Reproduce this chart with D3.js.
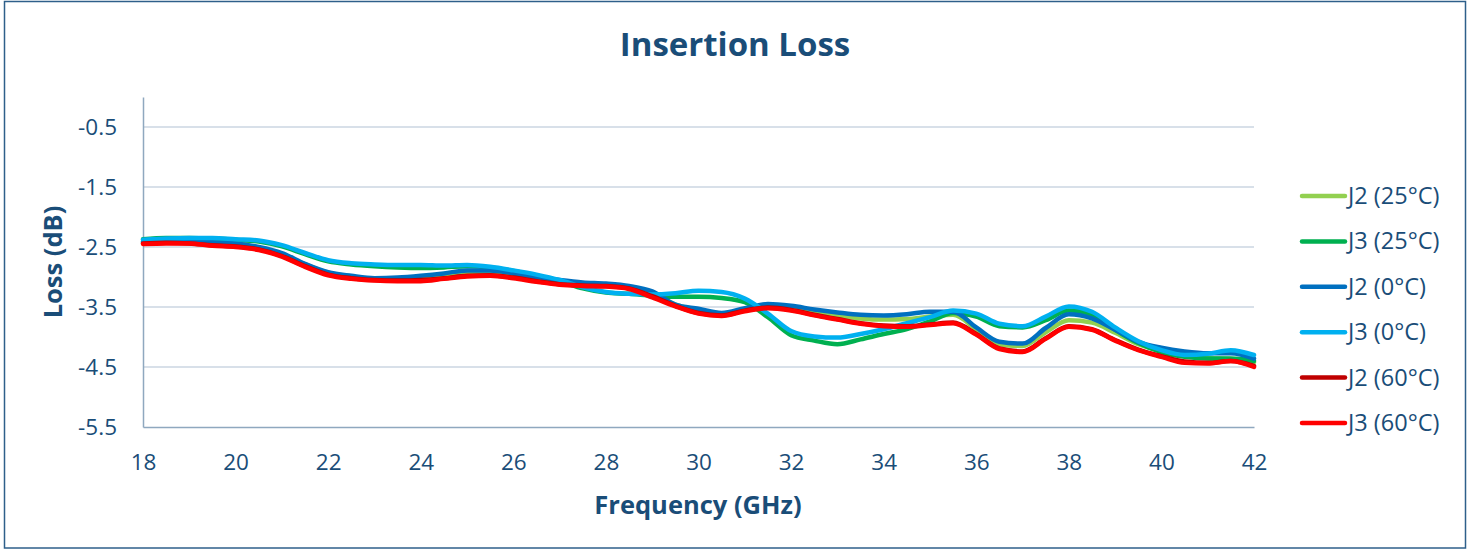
<!DOCTYPE html>
<html>
<head>
<meta charset="utf-8">
<script src="https://cdn.jsdelivr.net/npm/d3@7"></script>
<style>
  body { margin: 0; background: #fff; }
  text { font-family: "Open Sans", "Noto Sans", sans-serif; fill: #1A4D78; }
</style>
</head>
<body>
<svg id="chart" width="1473" height="550"></svg>
<script>
// frequency points (GHz)
var freq = [18, 18.5, 19, 19.5, 20, 20.5, 21, 21.5, 22, 22.5, 23, 23.5, 24, 24.5, 25, 25.5,
  26, 26.5, 27, 27.5, 28, 28.5, 29, 29.5, 30, 30.5, 31, 31.5, 32, 32.5, 33, 33.5,
  34, 34.5, 35, 35.5, 36, 36.5, 37, 37.5, 38, 38.5, 39, 39.5, 40, 40.5, 41, 41.5, 42];

var j2_25 = [-2.41, -2.40, -2.41, -2.43, -2.45, -2.51, -2.62, -2.79, -2.93, -2.99, -3.03, -3.03, -3.01, -2.97, -2.93, -2.92,
  -2.96, -3.02, -3.07, -3.11, -3.13, -3.17, -3.27, -3.46, -3.55, -3.61, -3.55, -3.49, -3.52, -3.58, -3.64, -3.69,
  -3.71, -3.70, -3.66, -3.63, -3.87, -4.12, -4.15, -3.92, -3.72, -3.76, -3.93, -4.12, -4.23, -4.30, -4.35, -4.37, -4.42];
var j3_25 = [-2.37, -2.35, -2.35, -2.36, -2.38, -2.41, -2.49, -2.62, -2.74, -2.79, -2.82, -2.84, -2.85, -2.84, -2.82, -2.84,
  -2.90, -2.98, -3.07, -3.19, -3.26, -3.28, -3.31, -3.33, -3.33, -3.35, -3.42, -3.67, -3.97, -4.06, -4.12, -4.04,
  -3.95, -3.87, -3.74, -3.60, -3.66, -3.82, -3.84, -3.72, -3.56, -3.63, -3.88, -4.10, -4.25, -4.33, -4.36, -4.36, -4.40];
var j2_0 = [-2.42, -2.41, -2.41, -2.42, -2.44, -2.50, -2.60, -2.78, -2.92, -2.98, -3.02, -3.01, -2.98, -2.94, -2.89, -2.89,
  -2.94, -3.00, -3.05, -3.09, -3.11, -3.15, -3.24, -3.46, -3.53, -3.60, -3.52, -3.45, -3.48, -3.54, -3.59, -3.63,
  -3.64, -3.62, -3.58, -3.58, -3.84, -4.08, -4.11, -3.85, -3.62, -3.69, -3.88, -4.08, -4.18, -4.24, -4.27, -4.27, -4.36];
var j3_0 = [-2.38, -2.36, -2.35, -2.35, -2.37, -2.39, -2.47, -2.60, -2.72, -2.77, -2.79, -2.80, -2.80, -2.81, -2.80, -2.83,
  -2.89, -2.96, -3.05, -3.17, -3.25, -3.28, -3.29, -3.27, -3.23, -3.25, -3.36, -3.61, -3.90, -3.99, -4.01, -3.95,
  -3.87, -3.77, -3.67, -3.56, -3.61, -3.78, -3.82, -3.66, -3.49, -3.58, -3.84, -4.07, -4.22, -4.30, -4.28, -4.22, -4.30];
var j2_60 = [-2.44, -2.43, -2.44, -2.47, -2.49, -2.54, -2.65, -2.82, -2.96, -3.02, -3.05, -3.06, -3.05, -3.02, -2.98, -2.97,
  -3.01, -3.07, -3.12, -3.14, -3.15, -3.19, -3.32, -3.48, -3.60, -3.64, -3.56, -3.51, -3.55, -3.63, -3.70, -3.77,
  -3.81, -3.82, -3.79, -3.76, -3.95, -4.19, -4.24, -4.02, -3.82, -3.87, -4.05, -4.21, -4.32, -4.41, -4.43, -4.40, -4.48];
var j3_60 = [-2.45, -2.44, -2.44, -2.48, -2.50, -2.55, -2.66, -2.83, -2.97, -3.03, -3.06, -3.07, -3.07, -3.03, -2.99, -2.98,
  -3.02, -3.08, -3.13, -3.15, -3.16, -3.20, -3.34, -3.49, -3.61, -3.65, -3.57, -3.52, -3.56, -3.64, -3.71, -3.78,
  -3.82, -3.83, -3.80, -3.77, -3.96, -4.20, -4.25, -4.03, -3.83, -3.88, -4.06, -4.22, -4.33, -4.43, -4.44, -4.40, -4.50];

var seriesNames = ["J2 (25°C)", "J3 (25°C)", "J2 (0°C)", "J3 (0°C)", "J2 (60°C)", "J3 (60°C)"];
var seriesColors = ["#92D050", "#00B050", "#0070C0", "#00B0F0", "#C00000", "#FF0000"];
var seriesValues = [j2_25, j3_25, j2_0, j3_0, j2_60, j3_60];

var xTicks = [18, 20, 22, 24, 26, 28, 30, 32, 34, 36, 38, 40, 42];
var yTicks = [-0.5, -1.5, -2.5, -3.5, -4.5, -5.5];

var svg = d3.select("#chart");

// outer border
svg.append("rect")
  .attr("x", 4.5).attr("y", 1.5)
  .attr("width", 1461).attr("height", 546.5)
  .style("fill", "none")
  .style("stroke", "#2E5F8A")
  .style("stroke-width", "1.5px");

var x = d3.scaleLinear().domain([18, 42]).range([143, 1254]);
var y = d3.scaleLinear().domain([-5.5, 0]).range([427, 97]);

// gridlines
svg.append("g").selectAll("line")
  .data(yTicks.filter(function(d) { return d != -5.5; }))
  .enter().append("line")
  .attr("x1", x(18)).attr("x2", x(42))
  .attr("y1", function(d) { return y(d); })
  .attr("y2", function(d) { return y(d); })
  .style("stroke", "#CBD6E2")
  .style("stroke-width", "1.5px");

// y axis
var yAxis = svg.append("g")
  .attr("transform", "translate(" + x(18) + ",0)")
  .call(d3.axisLeft(y).tickValues(yTicks).tickSize(0).tickPadding(26)
    .tickFormat(function(d) { return d.toFixed(1); }));
yAxis.select(".domain").style("stroke", "#8FA8BF").style("stroke-width", "1.5px");
yAxis.selectAll("text").style("font-size", "22.5px").style("fill", "#1A4D78")
  .style("font-family", "'Open Sans', sans-serif");

// x axis
var xAxis = svg.append("g")
  .attr("transform", "translate(0," + y(-5.5) + ")")
  .call(d3.axisBottom(x).tickValues(xTicks).tickSize(0).tickPadding(27));
xAxis.select(".domain").style("stroke", "#8FA8BF").style("stroke-width", "1.5px");
xAxis.selectAll("text").style("font-size", "22.5px").style("fill", "#1A4D78")
  .style("font-family", "'Open Sans', sans-serif");

// lines
var line = d3.line()
  .x(function(d, i) { return x(freq[i]); })
  .y(function(d) { return y(d); })
  .curve(d3.curveMonotoneX);

svg.append("g").selectAll("path")
  .data(seriesValues)
  .enter().append("path")
  .attr("d", line)
  .style("fill", "none")
  .style("stroke", function(d, i) { return seriesColors[i]; })
  .style("stroke-width", "4.5px")
  .style("stroke-linejoin", "round")
  .style("stroke-linecap", "round");

// title
svg.append("text")
  .attr("x", 735).attr("y", 56)
  .style("text-anchor", "middle")
  .style("font-size", "33px")
  .style("font-weight", "bold")
  .text("Insertion Loss");

// axis titles
svg.append("text")
  .attr("x", 698).attr("y", 514)
  .style("text-anchor", "middle")
  .style("font-size", "25.5px")
  .style("font-weight", "bold")
  .text("Frequency (GHz)");

svg.append("text")
  .attr("transform", "translate(62,262) rotate(-90)")
  .style("text-anchor", "middle")
  .style("font-size", "25.5px")
  .style("font-weight", "bold")
  .text("Loss (dB)");

// legend
var legend = svg.append("g").selectAll("g")
  .data(seriesNames)
  .enter().append("g")
  .attr("transform", function(d, i) { return "translate(1300," + (196 + i * 45.4) + ")"; });
legend.append("line")
  .attr("x1", 2).attr("x2", 45)
  .style("stroke", function(d, i) { return seriesColors[i]; })
  .style("stroke-width", "4.5px")
  .style("stroke-linecap", "round");
legend.append("text")
  .attr("x", 48).attr("y", 8)
  .style("font-size", "23.5px")
  .text(function(d) { return d; });
</script>
</body>
</html>
